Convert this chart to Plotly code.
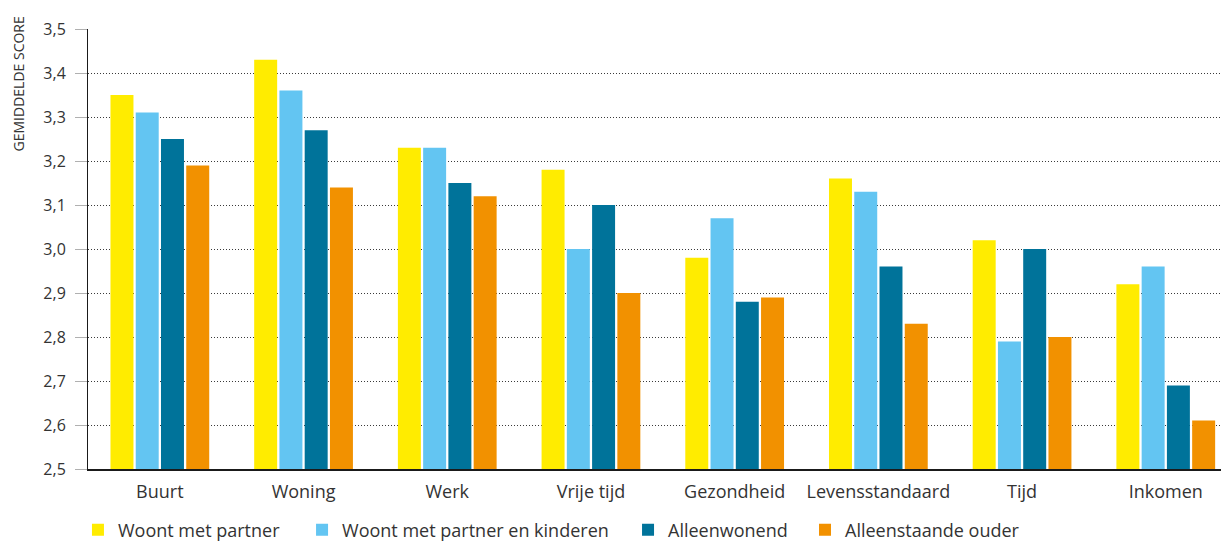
import plotly.graph_objects as go

categories = ["Buurt", "Woning", "Werk", "Vrije tijd", "Gezondheid", "Levensstandaard", "Tijd", "Inkomen"]
series_names = ["Woont met partner", "Woont met partner en kinderen", "Alleenwonend", "Alleenstaande ouder"]
woont_met_partner = [3.35, 3.43, 3.23, 3.18, 2.98, 3.16, 3.02, 2.92]
partner_en_kinderen = [3.31, 3.36, 3.23, 3.00, 3.07, 3.13, 2.79, 2.96]
alleenwonend = [3.25, 3.27, 3.15, 3.10, 2.88, 2.96, 3.00, 2.69]
alleenstaande_ouder = [3.19, 3.14, 3.12, 2.90, 2.89, 2.83, 2.80, 2.61]
y_ticks = [2.5, 2.6, 2.7, 2.8, 2.9, 3.0, 3.1, 3.2, 3.3, 3.4, 3.5]

colors = ["#FFEC00", "#63C5F2", "#00739A", "#F29100"]
values = [woont_met_partner, partner_en_kinderen, alleenwonend, alleenstaande_ouder]
legend_ids = ["legend", "legend2", "legend3", "legend4"]
legend_x = [-0.0088, 0.1876, 0.4733, 0.6284]

FONT = "Open Sans"
TXT = "#333333"
fig = go.Figure()
for name, vals, col, lg in zip(series_names, values, colors, legend_ids):
    fig.add_trace(go.Bar(x=categories, y=vals, name=name, legend=lg,
                         marker=dict(color=col, line=dict(width=0)),
                         hoverinfo="x+y+name"))

layout_legends = {}
for lg, lx in zip(legend_ids, legend_x):
    layout_legends[lg] = dict(orientation="h", x=lx, xanchor="left", y=-0.139, yanchor="middle",
                              font=dict(size=18, color=TXT, family=FONT),
                              bgcolor="rgba(0,0,0,0)")

# page body has an 8px margin, so the figure is sized to fit the 1229x541 window
fig.update_layout(
    width=1221, height=533,
    margin=dict(l=80, r=0, t=21, b=72, autoexpand=False),
    paper_bgcolor="white", plot_bgcolor="white",
    barmode="group", bargap=0.297, bargroupgap=0.09,
    separators=",.",
    font=dict(family=FONT, color=TXT, size=16),
    showlegend=True,
    **layout_legends,
)
fig.update_xaxes(range=[-0.5, 7.44], showline=True, linecolor="#1a1a1a", linewidth=2,
                 ticks="", tickfont=dict(size=18, color=TXT), showgrid=False,
                 ticklabelstandoff=5, fixedrange=True, automargin=False)
fig.update_yaxes(range=[2.5, 3.5], tickvals=y_ticks, tickformat=".1f", showgrid=True,
                 gridcolor="#3a3a3a", griddash="1px,2px", gridwidth=1,
                 showline=True, linecolor="#1a1a1a", linewidth=1,
                 ticks="outside", ticklen=12, tickcolor="#b0b0b0", tickwidth=1,
                 tickfont=dict(size=16, color=TXT), zeroline=False,
                 ticklabelstandoff=6, automargin=False)
fig.add_annotation(text="GEMIDDELDE SCORE", xref="paper", yref="paper", x=-0.0613, y=1.032,
                   xanchor="center", yanchor="top", textangle=-90, showarrow=False,
                   font=dict(size=14, color=TXT, family=FONT))
fig.write_html("out.html")
